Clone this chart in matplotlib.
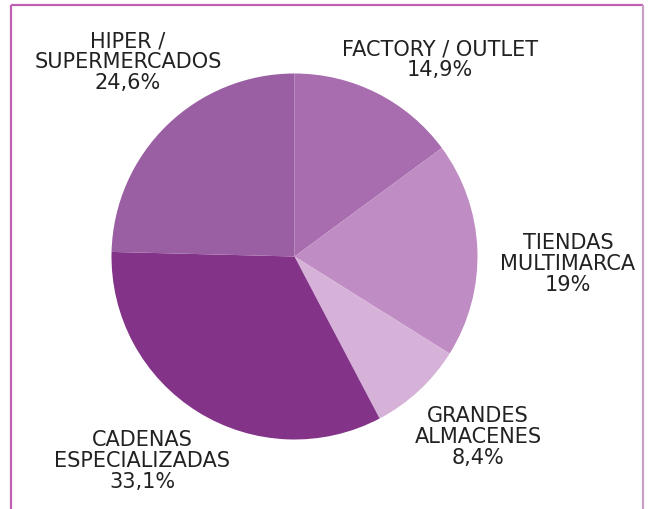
import matplotlib.pyplot as plt
from matplotlib import font_manager

# datos
categorias = ['FACTORY / OUTLET', 'TIENDAS\nMULTIMARCA', 'GRANDES\nALMACENES',
              'CADENAS\nESPECIALIZADAS', 'HIPER /\nSUPERMERCADOS']
valores = [14.9, 19, 8.4, 33.1, 24.6]
etiquetas_pct = ['14,9%', '19%', '8,4%', '33,1%', '24,6%']
colores = ['#a76dae', '#c08cc4', '#d6b2d8', '#833489', '#9a5ea3']

# posiciones de los textos (pixeles de la imagen)
pos_texto = [(440, 60), (568, 264), (478, 437), (142, 461), (128, 62)]

nombres = {f.name for f in font_manager.fontManager.ttflist}
fuente = 'Liberation Sans Narrow' if 'Liberation Sans Narrow' in nombres else 'DejaVu Sans'
plt.rcParams['font.family'] = [fuente, 'DejaVu Sans']

W, H = 652, 509
fig = plt.figure(figsize=(W / 100, H / 100), dpi=100)
ax = fig.add_axes([0, 0, 1, 1])
ax.set_xlim(0, W)
ax.set_ylim(0, H)
ax.axis('off')

ax.pie(valores, colors=colores, startangle=90, counterclock=False,
       center=(294.5, H - 256.5), radius=183, frame=True,
       wedgeprops=dict(linewidth=0))
ax.set_xlim(0, W)
ax.set_ylim(0, H)
ax.axis('off')

for cat, pct, (x, y) in zip(categorias, etiquetas_pct, pos_texto):
    ax.text(x, H - y, cat + '\n' + pct, ha='center', va='center',
            fontsize=15, color='#222222', linespacing=1.05)

# marco
ax.plot([11, 11], [0, H - 4.5], color='#c060b0', lw=1.6, solid_capstyle='butt')
ax.plot([11, 643], [H - 4.5, H - 4.5], color='#c060b0', lw=1.6, solid_capstyle='butt')
ax.plot([643, 643], [0, H - 4.5], color='#c8a0c8', lw=1.6, solid_capstyle='butt')

fig.savefig('out.png', dpi=100)
